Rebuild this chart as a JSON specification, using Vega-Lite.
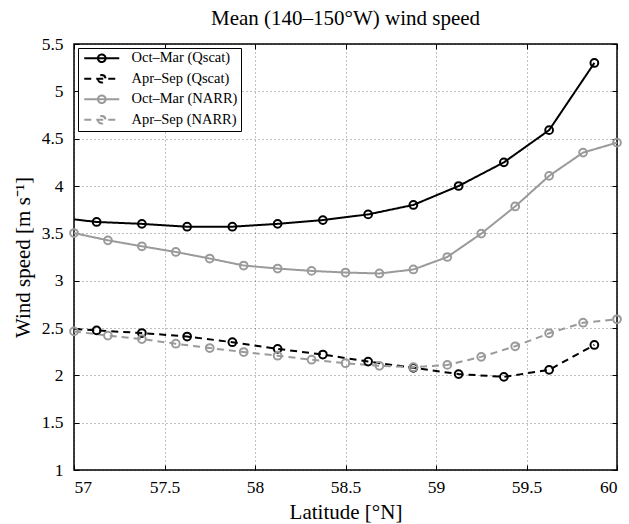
{
  "$schema": "https://vega.github.io/schema/vega-lite/v6.json",
  "autosize": {"type": "none"},
  "padding": {"left": 74, "top": 44, "right": 12, "bottom": 54},
  "width": 543,
  "height": 426,
  "config": {
    "font": "Liberation Serif",
    "view": {"stroke": "black", "strokeWidth": 1.5},
    "style": {
      "guide-label": {"font": "Liberation Serif"},
      "guide-title": {"font": "Liberation Serif"}
    },
    "axis": {
      "labelFont": "Liberation Serif",
      "titleFont": "Liberation Serif",
      "labelFontSize": 17.5,
      "titleFontSize": 21,
      "titleFontWeight": "normal",
      "labelColor": "black",
      "titleColor": "black",
      "domain": false,
      "tickColor": "black",
      "tickWidth": 1,
      "tickSize": -5,
      "gridColor": "black",
      "gridDash": [1, 3],
      "gridOpacity": 0.5,
      "gridWidth": 1
    },
    "legend": {
      "labelFont": "Liberation Serif",
      "labelFontSize": 14.5,
      "labelColor": "black"
    }
  },
  "title": {
    "text": "Mean (140–150°W) wind speed",
    "font": "Liberation Serif",
    "fontSize": 21,
    "fontWeight": "normal",
    "color": "black",
    "offset": 6
  },
  "data": {
    "values": [
      {"lat": 56.875, "ws": 3.675, "series": "Oct–Mar (Qscat)"},
      {"lat": 57.125, "ws": 3.62, "series": "Oct–Mar (Qscat)"},
      {"lat": 57.375, "ws": 3.60, "series": "Oct–Mar (Qscat)"},
      {"lat": 57.625, "ws": 3.57, "series": "Oct–Mar (Qscat)"},
      {"lat": 57.875, "ws": 3.57, "series": "Oct–Mar (Qscat)"},
      {"lat": 58.125, "ws": 3.60, "series": "Oct–Mar (Qscat)"},
      {"lat": 58.375, "ws": 3.64, "series": "Oct–Mar (Qscat)"},
      {"lat": 58.625, "ws": 3.70, "series": "Oct–Mar (Qscat)"},
      {"lat": 58.875, "ws": 3.80, "series": "Oct–Mar (Qscat)"},
      {"lat": 59.125, "ws": 4.00, "series": "Oct–Mar (Qscat)"},
      {"lat": 59.375, "ws": 4.25, "series": "Oct–Mar (Qscat)"},
      {"lat": 59.625, "ws": 4.59, "series": "Oct–Mar (Qscat)"},
      {"lat": 59.875, "ws": 5.30, "series": "Oct–Mar (Qscat)"},
      {"lat": 56.875, "ws": 2.505, "series": "Apr–Sep (Qscat)"},
      {"lat": 57.125, "ws": 2.475, "series": "Apr–Sep (Qscat)"},
      {"lat": 57.375, "ws": 2.447, "series": "Apr–Sep (Qscat)"},
      {"lat": 57.625, "ws": 2.41, "series": "Apr–Sep (Qscat)"},
      {"lat": 57.875, "ws": 2.35, "series": "Apr–Sep (Qscat)"},
      {"lat": 58.125, "ws": 2.28, "series": "Apr–Sep (Qscat)"},
      {"lat": 58.375, "ws": 2.22, "series": "Apr–Sep (Qscat)"},
      {"lat": 58.625, "ws": 2.145, "series": "Apr–Sep (Qscat)"},
      {"lat": 58.875, "ws": 2.08, "series": "Apr–Sep (Qscat)"},
      {"lat": 59.125, "ws": 2.013, "series": "Apr–Sep (Qscat)"},
      {"lat": 59.375, "ws": 1.984, "series": "Apr–Sep (Qscat)"},
      {"lat": 59.625, "ws": 2.058, "series": "Apr–Sep (Qscat)"},
      {"lat": 59.875, "ws": 2.321, "series": "Apr–Sep (Qscat)"},
      {"lat": 57.0, "ws": 3.503, "series": "Oct–Mar (NARR)"},
      {"lat": 57.1875, "ws": 3.426, "series": "Oct–Mar (NARR)"},
      {"lat": 57.375, "ws": 3.363, "series": "Oct–Mar (NARR)"},
      {"lat": 57.5625, "ws": 3.303, "series": "Oct–Mar (NARR)"},
      {"lat": 57.75, "ws": 3.234, "series": "Oct–Mar (NARR)"},
      {"lat": 57.9375, "ws": 3.16, "series": "Oct–Mar (NARR)"},
      {"lat": 58.125, "ws": 3.128, "series": "Oct–Mar (NARR)"},
      {"lat": 58.3125, "ws": 3.103, "series": "Oct–Mar (NARR)"},
      {"lat": 58.5, "ws": 3.086, "series": "Oct–Mar (NARR)"},
      {"lat": 58.6875, "ws": 3.076, "series": "Oct–Mar (NARR)"},
      {"lat": 58.875, "ws": 3.118, "series": "Oct–Mar (NARR)"},
      {"lat": 59.0625, "ws": 3.25, "series": "Oct–Mar (NARR)"},
      {"lat": 59.25, "ws": 3.497, "series": "Oct–Mar (NARR)"},
      {"lat": 59.4375, "ws": 3.784, "series": "Oct–Mar (NARR)"},
      {"lat": 59.625, "ws": 4.107, "series": "Oct–Mar (NARR)"},
      {"lat": 59.8125, "ws": 4.353, "series": "Oct–Mar (NARR)"},
      {"lat": 60.0, "ws": 4.458, "series": "Oct–Mar (NARR)"},
      {"lat": 57.0, "ws": 2.464, "series": "Apr–Sep (NARR)"},
      {"lat": 57.1875, "ws": 2.42, "series": "Apr–Sep (NARR)"},
      {"lat": 57.375, "ws": 2.383, "series": "Apr–Sep (NARR)"},
      {"lat": 57.5625, "ws": 2.334, "series": "Apr–Sep (NARR)"},
      {"lat": 57.75, "ws": 2.288, "series": "Apr–Sep (NARR)"},
      {"lat": 57.9375, "ws": 2.246, "series": "Apr–Sep (NARR)"},
      {"lat": 58.125, "ws": 2.207, "series": "Apr–Sep (NARR)"},
      {"lat": 58.3125, "ws": 2.165, "series": "Apr–Sep (NARR)"},
      {"lat": 58.5, "ws": 2.128, "series": "Apr–Sep (NARR)"},
      {"lat": 58.6875, "ws": 2.10, "series": "Apr–Sep (NARR)"},
      {"lat": 58.875, "ws": 2.086, "series": "Apr–Sep (NARR)"},
      {"lat": 59.0625, "ws": 2.11, "series": "Apr–Sep (NARR)"},
      {"lat": 59.25, "ws": 2.195, "series": "Apr–Sep (NARR)"},
      {"lat": 59.4375, "ws": 2.307, "series": "Apr–Sep (NARR)"},
      {"lat": 59.625, "ws": 2.444, "series": "Apr–Sep (NARR)"},
      {"lat": 59.8125, "ws": 2.556, "series": "Apr–Sep (NARR)"},
      {"lat": 60.0, "ws": 2.592, "series": "Apr–Sep (NARR)"}
    ]
  },
  "layer": [
    {
      "mark": {"type": "line", "clip": true, "strokeWidth": 2},
      "encoding": {
        "x": {
          "field": "lat", "type": "quantitative",
          "scale": {"domain": [57, 60], "nice": false, "zero": false},
          "axis": {"orient": "bottom", "title": "Latitude [°N]", "values": [57, 57.5, 58, 58.5, 59, 59.5, 60], "format": "~g", "grid": true, "labelPadding": 13, "titlePadding": 6, "labelFont": "Liberation Serif", "titleFont": "Liberation Serif", "labelFontSize": 17.5, "titleFontSize": 21}
        },
        "y": {
          "field": "ws", "type": "quantitative",
          "scale": {"domain": [1, 5.5], "nice": false, "zero": false},
          "axis": {"orient": "left", "title": "Wind speed [m s⁻¹]", "values": [1, 1.5, 2, 2.5, 3, 3.5, 4, 4.5, 5, 5.5], "format": "~g", "grid": true, "labelPadding": 16, "titlePadding": 8, "labelFont": "Liberation Serif", "titleFont": "Liberation Serif", "labelFontSize": 17.5, "titleFontSize": 21}
        },
        "color": {
          "field": "series", "type": "nominal",
          "scale": {
            "domain": ["Oct–Mar (Qscat)", "Apr–Sep (Qscat)", "Oct–Mar (NARR)", "Apr–Sep (NARR)"],
            "range": ["#000000", "#000000", "#9a9a9a", "#9a9a9a"]
          },
          "legend": {
            "title": null,
            "orient": "top-left",
            "offset": 4,
            "strokeColor": "black",
            "fillColor": "white",
            "padding": 3,
            "rowPadding": 3.5,
            "symbolType": "M-1,0H7.75M2.425,0a0.95,0.95 0 1,0 1.9,0a0.95,0.95 0 1,0 -1.9,0",
            "symbolSize": 64,
            "symbolStrokeWidth": 2,
            "symbolFillColor": "white",
            "labelOffset": 36,
            "labelFont": "Liberation Serif",
            "labelFontSize": 14.5
          }
        },
        "strokeDash": {
          "field": "series", "type": "nominal",
          "scale": {
            "domain": ["Oct–Mar (Qscat)", "Apr–Sep (Qscat)", "Oct–Mar (NARR)", "Apr–Sep (NARR)"],
            "range": [[1, 0], [7, 5], [1, 0], [7, 5]]
          },
          "legend": null
        }
      }
    },
    {
      "transform": [{"filter": "datum.lat >= 57"}],
      "mark": {"type": "point", "shape": "circle", "filled": false, "strokeWidth": 2, "size": 60, "opacity": 1},
      "encoding": {
        "x": {
          "field": "lat", "type": "quantitative",
          "axis": {"orient": "top", "title": null, "labels": false, "values": [57, 57.5, 58, 58.5, 59, 59.5, 60], "grid": false}
        },
        "y": {
          "field": "ws", "type": "quantitative",
          "axis": {"orient": "right", "title": null, "labels": false, "values": [1, 1.5, 2, 2.5, 3, 3.5, 4, 4.5, 5, 5.5], "grid": false}
        },
        "color": {"field": "series", "type": "nominal", "legend": null}
      }
    }
  ],
  "resolve": {"axis": {"x": "independent", "y": "independent"}}
}
